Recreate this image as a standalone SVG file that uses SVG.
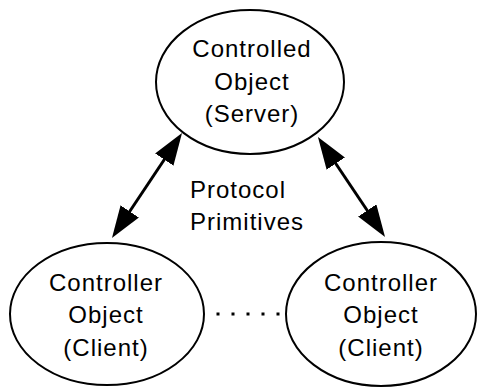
<svg xmlns="http://www.w3.org/2000/svg" width="477" height="388" viewBox="0 0 477 388">
  <style>
    .node { fill: #ffffff; stroke: #000000; stroke-width: 2; }
    .label { font-family: "Liberation Sans", Arial, sans-serif; font-size: 24px; letter-spacing: 1px; fill: #000000; text-anchor: middle; }
    .note { font-family: "Liberation Sans", Arial, sans-serif; font-size: 24px; letter-spacing: 1px; fill: #000000; }
    .link { stroke: #000000; stroke-width: 3; fill: none; marker-start: url(#head); marker-end: url(#head); }
    .ellipsis { stroke: #000000; stroke-width: 3; stroke-dasharray: 3 12; }
  </style>
  <defs>
    <marker id="head" viewBox="0 0 32 22" refX="26" refY="11" markerWidth="32" markerHeight="22" markerUnits="userSpaceOnUse" orient="auto-start-reverse">
      <path d="M0,0 L32,11 L0,22 z" fill="#000000"/>
    </marker>
  </defs>

  <rect width="477" height="388" fill="#ffffff"/>

  <!-- server node -->
  <g id="server">
    <ellipse class="node" cx="250" cy="82" rx="94" ry="72"/>
    <text class="label" x="252" y="57">Controlled</text>
    <text class="label" x="252" y="89.5">Object</text>
    <text class="label" x="252" y="122">(Server)</text>
  </g>

  <!-- client nodes -->
  <g id="client-left">
    <ellipse class="node" cx="107" cy="314" rx="97" ry="71"/>
    <text class="label" x="106" y="290.5">Controller</text>
    <text class="label" x="106" y="323">Object</text>
    <text class="label" x="106" y="355.5">(Client)</text>
  </g>

  <g id="client-right">
    <ellipse class="node" cx="381" cy="314" rx="95" ry="72"/>
    <text class="label" x="381" y="290.5">Controller</text>
    <text class="label" x="381" y="323">Object</text>
    <text class="label" x="381" y="355.5">(Client)</text>
  </g>

  <!-- protocol label -->
  <g id="protocol-label">
    <text class="note" x="190" y="198">Protocol</text>
    <text class="note" x="190" y="230">Primitives</text>
  </g>

  <!-- connectors -->
  <g id="connectors">
    <line class="link" x1="178.7" y1="138" x2="115.3" y2="233"/>
    <line class="link" x1="321.3" y1="142" x2="381.7" y2="232"/>
    <line class="ellipsis" x1="216.5" y1="314" x2="282" y2="314"/>
  </g>
</svg>
